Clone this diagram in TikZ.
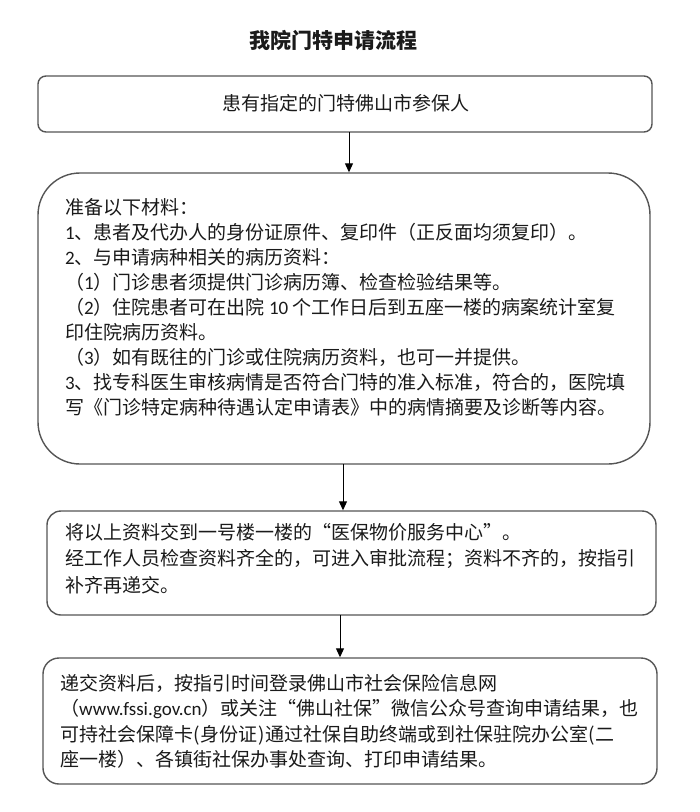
\documentclass[tikz,border=0pt]{standalone}
\usepackage{fontspec}
\setmainfont{Noto Sans CJK SC}
\newfontfamily\latf{Carlito}
\usetikzlibrary{arrows.meta}
\definecolor{linegray}{HTML}{555555}
\definecolor{inkcol}{HTML}{1A1A1A}
\tikzset{
  flowbox/.style={draw=linegray, line width=1.4pt, fill=white, inner sep=0pt},
  bodytxt/.style={text=inkcol, align=left, inner sep=0pt, anchor=base west},
  flowarrow/.style={draw=black, line width=1pt, -{Triangle[length=9pt,width=8pt]}},
}
\begin{document}
\begin{tikzpicture}[x=1pt,y=-1pt]
\useasboundingbox[fill=white] (0,0) rectangle (700,812);

% title
\node[text=inkcol, font={\fontsize{21}{25}\selectfont\bfseries}, anchor=base, inner sep=0pt] (title) at (333,48) {我院门特申请流程};

% boxes
\node[flowbox, rounded corners=8pt, minimum width=614pt, minimum height=56pt] (b1) at (345,104) {};
\node[flowbox, rounded corners=42pt, minimum width=612pt, minimum height=291pt] (b2) at (344,318.5) {};
\node[flowbox, rounded corners=14pt, minimum width=609pt, minimum height=104pt] (b3) at (351.5,563) {};
\node[flowbox, rounded corners=16pt, minimum width=614pt, minimum height=126pt] (b4) at (350,721) {};

% texts (base anchor of a multi-line node = baseline of its last line)
\node[text=inkcol, font={\fontsize{19}{25}\selectfont}, anchor=base, inner sep=0pt] (t1) at (346,110) {患有指定的门特佛山市参保人};

\node[bodytxt, font={\fontsize{19}{25}\selectfont}] (t2) at (65,414) {准备以下材料：\\
{\latf 1}、患者及代办人的身份证原件、复印件（正反面均须复印）。\\
{\latf 2}、与申请病种相关的病历资料：\\
（{\latf 1}）门诊患者须提供门诊病历簿、检查检验结果等。\\
（{\latf 2}）住院患者可在出院 {\latf 10} 个工作日后到五座一楼的病案统计室复\\
印住院病历资料。\\
（{\latf 3}）如有既往的门诊或住院病历资料，也可一并提供。\\
{\latf 3}、找专科医生审核病情是否符合门特的准入标准，符合的，医院填\\
写《门诊特定病种待遇认定申请表》中的病情摘要及诊断等内容。};

\node[bodytxt, font={\fontsize{19}{26.5}\selectfont}] (t3) at (65,592) {将以上资料交到一号楼一楼的“医保物价服务中心”。\\
经工作人员检查资料齐全的，可进入审批流程；资料不齐的，按指引\\
补齐再递交。};

\node[bodytxt, font={\fontsize{19}{25.5}\selectfont}] (t4) at (60,766.5) {递交资料后，按指引时间登录佛山市社会保险信息网\\
（{\latf www.fssi.gov.cn}）或关注“佛山社保”微信公众号查询申请结果，也\\
可持社会保障卡({\kern1pt}身份证{\kern1pt})通过社保自助终端或到社保驻院办公室({\kern1pt}二\\
座一楼）、各镇街社保办事处查询、打印申请结果。};

% connectors
\coordinate (a1) at (349,132);
\coordinate (a2) at (343,464);
\coordinate (a3) at (340,615);
\draw[flowarrow] (a1) -- (a1 |- b2.north);
\draw[flowarrow] (a2) -- (a2 |- b3.north);
\draw[flowarrow] (a3) -- (a3 |- b4.north);
\end{tikzpicture}
\end{document}
